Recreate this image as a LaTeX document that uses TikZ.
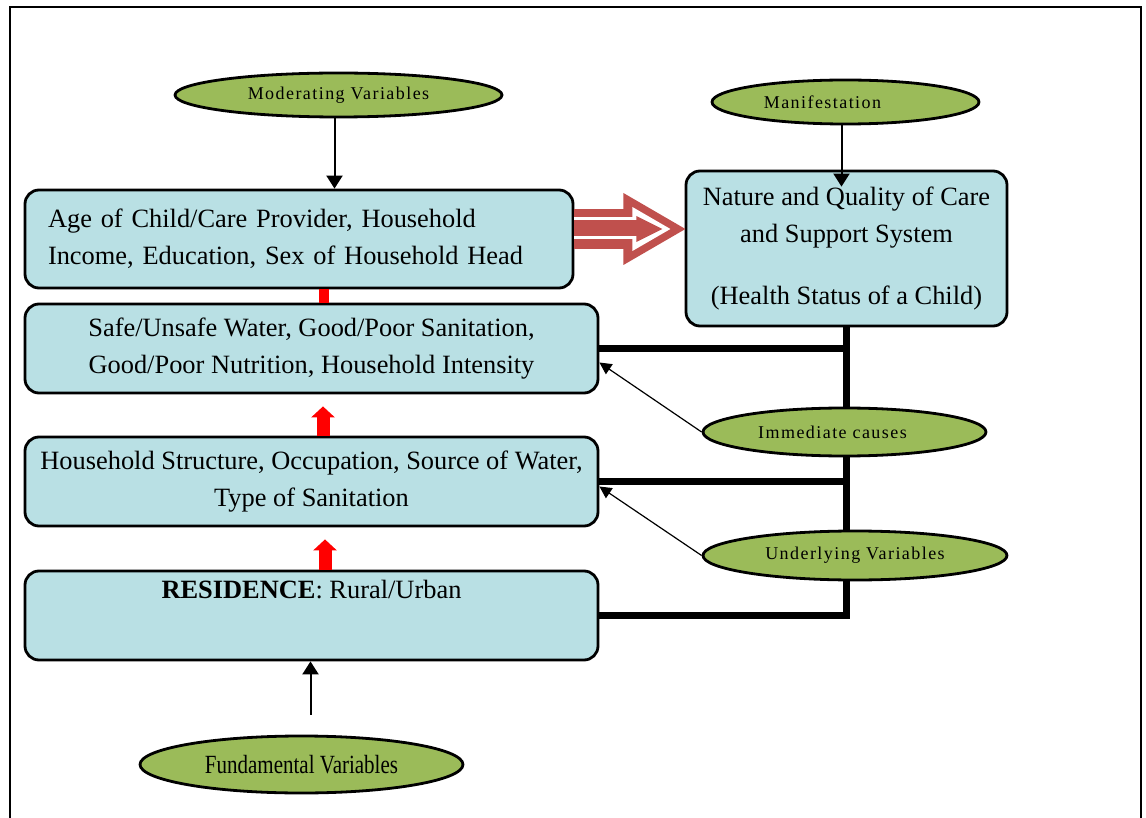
\documentclass[tikz,border=0pt]{standalone}
\usepackage{fontspec}
\setmainfont{Liberation Serif}
\newfontfamily\ellfont[LetterSpace=8]{Liberation Serif}
\usepackage{graphicx}
\usetikzlibrary{shapes,arrows,arrows.meta,calc,positioning}

\definecolor{boxblue}{RGB}{185,224,228}
\definecolor{ellgreen}{RGB}{155,187,89}
\definecolor{fatred}{RGB}{192,80,77}

\begin{document}
\begin{tikzpicture}[x=0.5pt,y=-0.5pt]

    \pgfdeclarelayer{background}
    \pgfsetlayers{background,main}

    \tikzstyle{box} = [draw, line width=1.4pt, fill=boxblue, rounded corners=7pt,
        inner sep=0pt, font=\fontsize{13.2}{18.5}\selectfont, align=center]
    \tikzstyle{wide} = [box, minimum width=286.5pt, minimum height=44.5pt]
    \tikzstyle{var} = [draw, ellipse, line width=1.4pt, fill=ellgreen, inner sep=0pt,
        font=\ellfont\fontsize{9}{11}\selectfont]
    \tikzstyle{feed} = [line width=1pt, -{Triangle[width=8pt,length=6.5pt]}]
    \tikzstyle{cause} = [line width=0.6pt, -{Triangle[width=6pt,length=6pt]}]
    \tikzstyle{link} = [line width=3.2pt]
    \tikzstyle{redup} = [red, line width=6.5pt, -{Triangle[width=11.5pt,length=5.5pt]}]

    \useasboundingbox (0,0) rectangle (1146,818);
    \draw[line width=1pt] (10,818) -- (10,7) -- (1141,7) -- (1141,818);

    % Moderating
    \node [var, minimum width=163.5pt, minimum height=22pt] (mod) at (338.5,95) {Moderating Variables};
    \node [box, minimum width=274pt, minimum height=49pt, text width=251pt, align=left,
        inner xsep=11.5pt] (age) at (299,239)
        {Age of Child/Care Provider, Household\\Income, Education, Sex of Household Head};

    % Immediate and underlying
    \node [wide] (safe) at (311.5,348.5)
        {Safe/Unsafe Water, Good/Poor Sanitation,\\Good/Poor Nutrition, Household Intensity};
    \node [wide, below of=safe, node distance=66.5pt] (hhs)
        {Household Structure, Occupation, Source of Water,\\Type of Sanitation};
    \node [wide, below of=hhs, node distance=67pt] (res)
        {\textbf{RESIDENCE}: Rural/Urban\\[8pt]\mbox{}};

    % Manifestation
    \node [var, minimum width=133.5pt, minimum height=22pt] (man) at (845.5,102) {Manifestation\hspace{23pt}\null};
    \node [box, minimum width=160.5pt, minimum height=77.5pt] (care) at (846.5,248.5)
        {Nature and Quality of Care\\and Support System\\[12.5pt](Health Status of a Child)\\[-15.5pt]\mbox{}};

    % Causes
    \node [var, minimum width=141.5pt, minimum height=24pt] (imm) at (844.5,432) {Immediate causes\hspace{12pt}\null};
    \node [var, minimum width=152pt, minimum height=24.5pt] (und) at (855,555.5) {Underlying Variables};

    % Fundamental
    \node [var, minimum width=161.5pt, minimum height=28.5pt, font=\fontsize{10.5}{12}\selectfont]
        (fund) at (301.5,764.5) {\scalebox{1}[1.25]{Fundamental Variables}};

    \begin{pgfonlayer}{background}
        \draw[link] (care.south) |- (res.east);
        \draw[link] (safe.east) -- (safe.east -| care.south);
        \draw[link] (hhs.east) -- (hhs.east -| care.south);
    \end{pgfonlayer}

    \draw[feed] ([xshift=-2pt]mod.south) -- ([xshift=-2pt]mod.south |- age.north);
    \draw[feed] ([xshift=-2pt]man.south) -- ($([xshift=-2pt]man.south |- care.north)+(0,17)$);
    \draw[feed, shorten <=10pt] ([xshift=4.5pt]fund.north) -- ([xshift=4.5pt]fund.north |- res.south);
    \draw[cause] (imm.west) -- ([yshift=-7pt]safe.east);
    \draw[cause] (und.west) -- ([yshift=-2.5pt]hhs.east);

    \draw[red, line width=5pt] ([xshift=6.25pt]safe.north) -- ([xshift=6.25pt]safe.north |- age.south);
    \draw[redup, shorten >=6pt] ([xshift=5.75pt]hhs.north) -- ([xshift=5.75pt]hhs.north |- safe.south);
    \draw[redup, shorten >=6pt] ([xshift=6.75pt]res.north) -- ([xshift=6.75pt]res.north |- hhs.south);

    % fat arrow to care
    \coordinate (fa) at ($(age.east)+(0,-10)$);
    \begin{scope}[shift={(fa)}]
        \fill[fatred] (0,-20) rectangle (50,20);
        \fill[fatred] (49,-36) -- (111,0) -- (49,36) -- cycle;
        \fill[white] (58,-22) -- (96,0) -- (58,22) -- cycle;
        \fill[white] (0,-12) rectangle (60,-9);
        \fill[white] (0,7) rectangle (60,10);
        \fill[fatred] (0,-9) rectangle (64,7);
        \fill[fatred] (62,-13) -- (88,0) -- (62,13) -- cycle;
    \end{scope}

\end{tikzpicture}
\end{document}
